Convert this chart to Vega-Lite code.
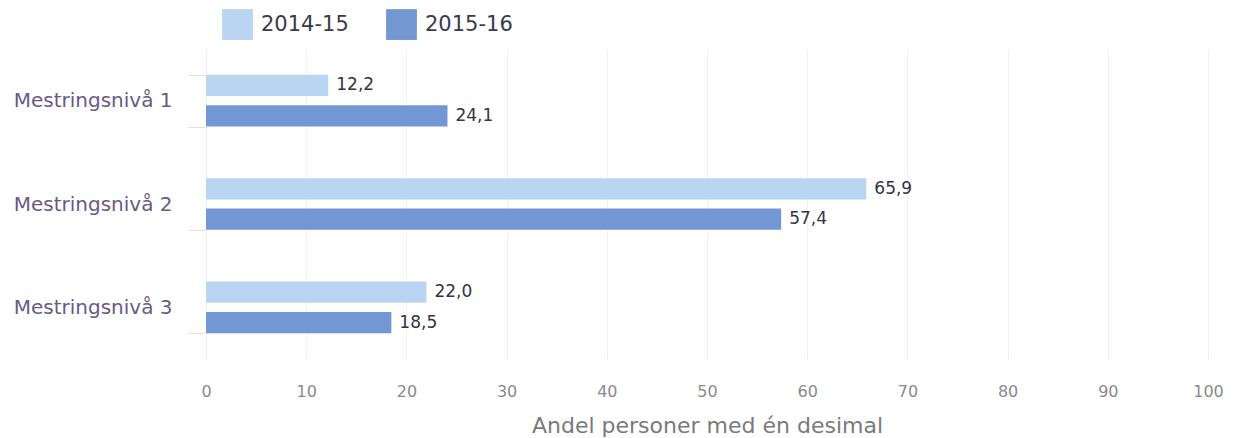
{
  "$schema": "https://vega.github.io/schema/vega-lite/v6.json",
  "autosize": {"type": "none"},
  "width": 1002,
  "height": 310,
  "padding": {"left": 206, "top": 49, "right": 26, "bottom": 79},
  "background": "white",
  "config": {
    "locale": {"number": {"decimal": ",", "thousands": " ", "grouping": [3], "currency": ["", " kr"]}},
    "font": "DejaVu Sans",
    "view": {"stroke": null}
  },
  "data": {
    "values": [
      {"niva": "Mestringsnivå 1", "aar": "2014-15", "andel": 12.2},
      {"niva": "Mestringsnivå 1", "aar": "2015-16", "andel": 24.1},
      {"niva": "Mestringsnivå 2", "aar": "2014-15", "andel": 65.9},
      {"niva": "Mestringsnivå 2", "aar": "2015-16", "andel": 57.4},
      {"niva": "Mestringsnivå 3", "aar": "2014-15", "andel": 22.0},
      {"niva": "Mestringsnivå 3", "aar": "2015-16", "andel": 18.5}
    ]
  },
  "encoding": {
    "y": {
      "field": "niva", "type": "nominal", "sort": null,
      "scale": {"paddingInner": 0.5, "paddingOuter": 0.25},
      "axis": {
        "title": null, "domainColor": "#eeeeee", "tickColor": "#e2e2e2", "tickSize": 18,
        "tickBand": "extent", "labelPadding": 16, "labelFontSize": 20, "labelColor": "#6a5a86"
      }
    },
    "yOffset": {"field": "aar", "type": "nominal", "scale": {"paddingInner": 0.3}},
    "x": {
      "field": "andel", "type": "quantitative",
      "scale": {"domain": [0, 100], "nice": false},
      "axis": {
        "title": "Andel personer med én desimal", "values": [0,10,20,30,40,50,60,70,80,90,100],
        "grid": true, "gridColor": "#f2f2f2", "domain": false, "ticks": false, "labelFlush": false,
        "labelFontSize": 16, "labelColor": "#8a8a8a", "labelPadding": 24,
        "titleFontSize": 22, "titleFontWeight": "normal", "titleColor": "#7a7a7a", "titlePadding": 16,
        "format": "d"
      }
    }
  },
  "layer": [
    {
      "mark": {"type": "bar"},
      "encoding": {
        "color": {
          "field": "aar", "type": "nominal",
          "scale": {"domain": ["2014-15", "2015-16"], "range": ["#b9d5f2", "#7297d3"]},
          "legend": {
            "title": null, "orient": "none", "direction": "horizontal", "legendX": 16, "legendY": -40,
            "symbolType": "square", "symbolSize": 950, "symbolStrokeWidth": 0,
            "labelFontSize": 21, "labelColor": "#3a3a4a", "columnPadding": 37, "labelOffset": 8
          }
        }
      }
    },
    {
      "mark": {"type": "text", "align": "left", "dx": 8, "fontSize": 17, "color": "#333344"},
      "encoding": {"text": {"field": "andel", "type": "quantitative", "format": ".1f"}}
    }
  ]
}
